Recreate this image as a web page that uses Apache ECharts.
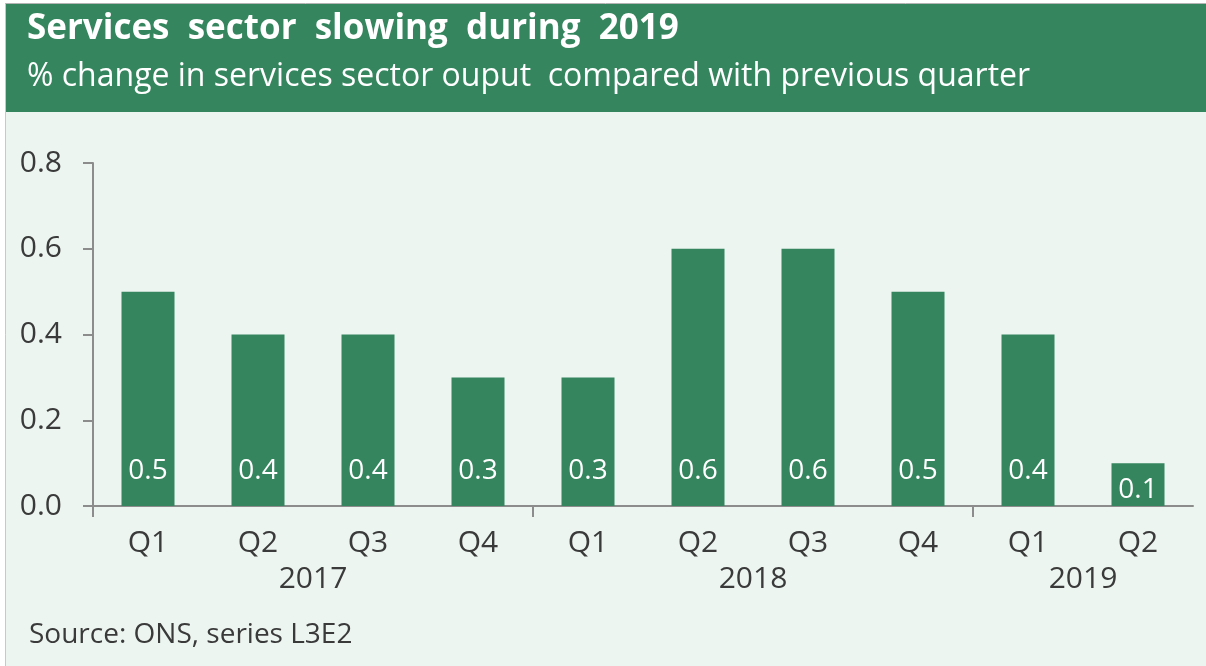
<!DOCTYPE html>
<html>
<head>
<meta charset="utf-8">
<script src="https://cdn.jsdelivr.net/npm/echarts@6/dist/echarts.min.js"></script>
<style>
  html, body { margin: 0; padding: 0; background: #fff; }
  #chart { width: 1206px; height: 666px; }
</style>
</head>
<body>
<div id="chart"></div>
<script>
// data
const quarters = ['Q1', 'Q2', 'Q3', 'Q4', 'Q1', 'Q2', 'Q3', 'Q4', 'Q1', 'Q2'];
const years = ['2017', '2017', '2017', '2017', '2018', '2018', '2018', '2018', '2019', '2019'];
const growth = [0.5, 0.4, 0.4, 0.3, 0.3, 0.6, 0.6, 0.5, 0.4, 0.1];

const GREEN = '#35865e';
const MINT = '#ecf5f0';
const TEXT = '#3a3a3a';
const AXIS = '#8c8c8c';
const FONT = '"Open Sans", "Noto Sans", sans-serif';

// year groups: where each year starts and where its label sits (in quarter units)
const yearStarts = [];
const yearCentres = [];
const yearNames = {};
let start = 0;
for (let i = 1; i <= years.length; i++) {
  if (i === years.length || years[i] !== years[start]) {
    yearStarts.push(start);
    const mid = (start + i) / 2;
    yearCentres.push(mid);
    yearNames[mid] = years[start];
    start = i;
  }
}

const barData = growth.map(v => ({
  value: v,
  // small bars: keep the label inside the bar
  label: { distance: v < 0.2 ? 2 : 21 }
}));

const chart = echarts.init(document.getElementById('chart'), null, { renderer: 'canvas' });

chart.setOption({
  backgroundColor: '#fff',
  animation: false,
  textStyle: { fontFamily: FONT },
  graphic: [
    { type: 'rect', z: -10, shape: { x: 5, y: 4, width: 1201, height: 662 }, style: { fill: MINT } },
    { type: 'rect', z: -9, shape: { x: 5, y: 4, width: 1201, height: 108 }, style: { fill: GREEN } },
    { type: 'line', z: -8, shape: { x1: 5, y1: 3.5, x2: 1206, y2: 3.5 }, style: { stroke: '#b4b4b4', lineWidth: 1 } },
    { type: 'line', z: -8, shape: { x1: 5.5, y1: 3.5, x2: 5.5, y2: 666 }, style: { stroke: '#c8c8c8', lineWidth: 1 } },
    {
      type: 'text', left: 27, top: 12,
      style: { text: 'Services  sector  slowing  during  2019', fill: '#fff', font: 'bold 35px ' + FONT }
    },
    {
      type: 'text', left: 27, top: 61,
      style: { text: '% change in services sector ouput  compared with previous quarter', fill: '#fff', font: '32px ' + FONT }
    },
    {
      type: 'text', left: 29, top: 621,
      style: { text: 'Source: ONS, series L3E2', fill: TEXT, font: '28px ' + FONT }
    }
  ],
  grid: { left: 93, right: 13, top: 163, bottom: 160, containLabel: false },
  xAxis: [
    {
      type: 'category',
      data: quarters,
      position: 'bottom',
      axisLine: { lineStyle: { color: AXIS, width: 2 } },
      axisTick: { show: false },
      axisLabel: { color: TEXT, fontSize: 30, margin: 22, fontFamily: FONT }
    },
    {
      type: 'value',
      min: 0,
      max: quarters.length,
      position: 'bottom',
      axisLine: { show: false },
      splitLine: { show: false },
      axisTick: {
        show: true, customValues: yearStarts, length: 11, inside: false,
        lineStyle: { color: AXIS, width: 2 }
      },
      axisLabel: {
        customValues: yearCentres,
        formatter: v => yearNames[v] || '',
        color: TEXT, fontSize: 30, margin: 58, fontFamily: FONT
      }
    }
  ],
  yAxis: {
    type: 'value',
    min: 0,
    max: 0.8,
    interval: 0.2,
    axisLine: { show: true, lineStyle: { color: AXIS, width: 2 } },
    axisTick: { show: true, length: 10, lineStyle: { color: AXIS, width: 2 } },
    splitLine: { show: false },
    axisLabel: {
      color: TEXT, fontSize: 30, margin: 31, fontFamily: FONT,
      formatter: v => v.toFixed(1)
    }
  },
  series: [{
    type: 'bar',
    xAxisIndex: 0,
    data: barData,
    barWidth: 53,
    itemStyle: { color: GREEN },
    label: {
      show: true,
      position: 'insideBottom',
      color: '#fff',
      fontSize: 28,
      fontFamily: FONT,
      formatter: p => p.value.toFixed(1)
    }
  }]
});
</script>
</body>
</html>
